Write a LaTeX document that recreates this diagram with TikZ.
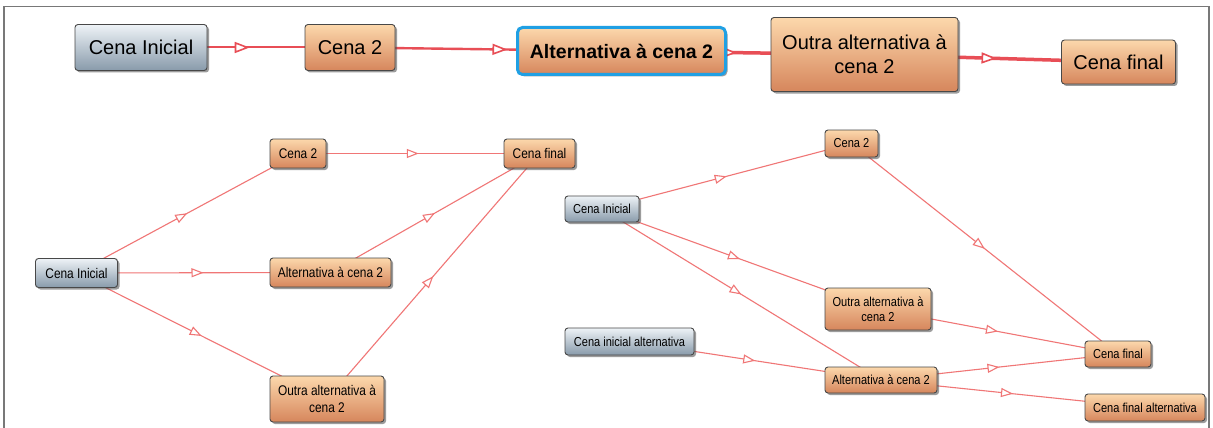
\documentclass[tikz,border=0pt]{standalone}
\usepackage{fontspec}
\setmainfont{Liberation Sans}
\newfontfamily\narrowfont{Liberation Sans}[FakeStretch=0.85]
\usetikzlibrary{arrows.meta,shadows,decorations.markings,backgrounds}

\definecolor{orTop}{RGB}{252,216,172}
\definecolor{orBot}{RGB}{214,134,92}
\definecolor{gyTop}{RGB}{238,243,247}
\definecolor{gyBot}{RGB}{136,154,170}
\definecolor{boxLine}{RGB}{72,72,72}
\definecolor{linkThin}{RGB}{240,118,118}
\definecolor{linkBold}{RGB}{232,78,86}
\definecolor{selBlue}{RGB}{32,160,228}
\definecolor{frameGray}{RGB}{120,120,120}

\tikzset{
  smalltip/.tip={Triangle[length=12pt,width=9pt,fill=white]},
  bigtip/.tip={Triangle[length=15pt,width=11pt,fill=white]},
  box/.style={rounded corners=3pt, draw=boxLine, line width=0.9pt, inner sep=0pt,
    align=center, text=black,
    drop shadow={shadow xshift=2pt, shadow yshift=-2pt, fill=black!70, opacity=0.55}},
  orng/.style={box, top color=orTop, bottom color=orBot},
  grey/.style={box, top color=gyTop, bottom color=gyBot},
  bigtxt/.style={font=\fontsize{20}{24}\selectfont},
  lefttxt/.style={font=\narrowfont\fontsize{14}{17}\selectfont},
  righttxt/.style={font=\narrowfont\fontsize{13}{15}\selectfont},
  thinlink/.style={draw=linkThin, line width=1.1pt, postaction={decorate},
    decoration={markings, mark=at position #1 with {\arrow{smalltip}}}},
  thinlink/.default=0.5,
  boldlink/.style 2 args={draw=linkBold, line width=#2, postaction={decorate},
    decoration={markings, mark=at position #1 with {\arrow[line width=1.6pt]{bigtip}}}},
}

\begin{document}
\begin{tikzpicture}[x=1pt,y=-1pt]
\useasboundingbox (0,0) rectangle (1213,428);

% frame around the figure
\draw[frameGray, line width=1.3pt] (4,428) -- (4,6.5) -- (1209,6.5) -- (1209,428);

% ---- linear sequence of scenes (top) ----
\node[grey, bigtxt, minimum width=132pt, minimum height=46pt] (tCI) at (141,47.5) {Cena Inicial};
\node[orng, bigtxt, minimum width=90pt, minimum height=46pt] (tC2) at (350,47.5) {Cena 2};
\node[orng, font=\bfseries\fontsize{19.5}{24}\selectfont, draw=selBlue, line width=3pt,
      rounded corners=5pt, minimum width=208pt, minimum height=47pt] (tAlt) at (621.5,51) {Alternativa à cena 2};
\node[orng, bigtxt, minimum width=187pt, minimum height=74pt] (tOutra) at (864.5,54.5) {Outra alternativa à\\cena 2};
\node[orng, bigtxt, minimum width=114pt, minimum height=44pt] (tCf) at (1118.5,62) {Cena final};

% ---- branching graph (bottom left) ----
\node[grey, lefttxt, minimum width=82pt, minimum height=29pt] (lCI) at (76.5,273) {Cena Inicial};
\node[orng, lefttxt, minimum width=56pt, minimum height=29pt] (lC2) at (298,153.5) {Cena 2};
\node[orng, lefttxt, minimum width=71pt, minimum height=29pt] (lCf) at (539.5,153.5) {Cena final};
\node[orng, lefttxt, minimum width=121pt, minimum height=29pt] (lAlt) at (330.5,272.5) {Alternativa à cena 2};
\node[orng, lefttxt, minimum width=114pt, minimum height=46pt] (lOutra) at (327,399) {Outra alternativa à\\cena 2};

% ---- branching graph with two starts and two endings (bottom right) ----
\node[orng, righttxt, minimum width=53pt, minimum height=27pt] (rC2) at (851.5,143.5) {Cena 2};
\node[grey, righttxt, minimum width=74pt, minimum height=26pt] (rCI) at (602,209) {Cena Inicial};
\node[orng, righttxt, minimum width=106pt, minimum height=42pt] (rOutra) at (878,309) {Outra alternativa à\\cena 2};
\node[grey, righttxt, minimum width=129pt, minimum height=27pt] (rCia) at (629.5,341.5) {Cena inicial alternativa};
\node[orng, righttxt, minimum width=66pt, minimum height=26pt] (rCf) at (1118,354) {Cena final};
\node[orng, righttxt, minimum width=112pt, minimum height=26pt] (rAlt) at (881,380) {Alternativa à cena 2};
\node[orng, righttxt, minimum width=120pt, minimum height=27pt] (rCfa) at (1145,407.5) {Cena final alternativa};

\begin{pgfonlayer}{background}
  \fill[white] (0,0) rectangle (1213,428);
  % top sequence
  \draw[boldlink={0.52}{2pt}] (tCI.center) -- (tC2.center);
  \draw[boldlink={0.58}{2.4pt}] (tC2.center) -- (tAlt.center);
  \draw[boldlink={0.475}{3.5pt}] (tAlt.center) -- (tOutra.center);
  \draw[boldlink={0.52}{3.5pt}] (tOutra.center) -- (tCf.center);
  % bottom left
  \draw[thinlink] (lCI.center) -- (lC2.center);
  \draw[thinlink] (lCI.center) -- (lAlt.center);
  \draw[thinlink] (lCI.center) -- (lOutra.center);
  \draw[thinlink] (lC2.center) -- (lCf.center);
  \draw[thinlink] (lAlt.center) -- (lCf.center);
  \draw[thinlink] (lOutra.center) -- (lCf.center);
  % bottom right
  \draw[thinlink] (rCI.center) -- (rC2.center);
  \draw[thinlink] (rCI.center) -- (rOutra.center);
  \draw[thinlink] (rCI.center) -- (rAlt.center);
  \draw[thinlink] (rC2.center) -- (rCf.center);
  \draw[thinlink] (rOutra.center) -- (rCf.center);
  \draw[thinlink] (rCia.center) -- (rAlt.center);
  \draw[thinlink] (rAlt.center) -- (rCf.center);
  \draw[thinlink] (rAlt.center) -- (rCfa.center);
\end{pgfonlayer}
\end{tikzpicture}
\end{document}
